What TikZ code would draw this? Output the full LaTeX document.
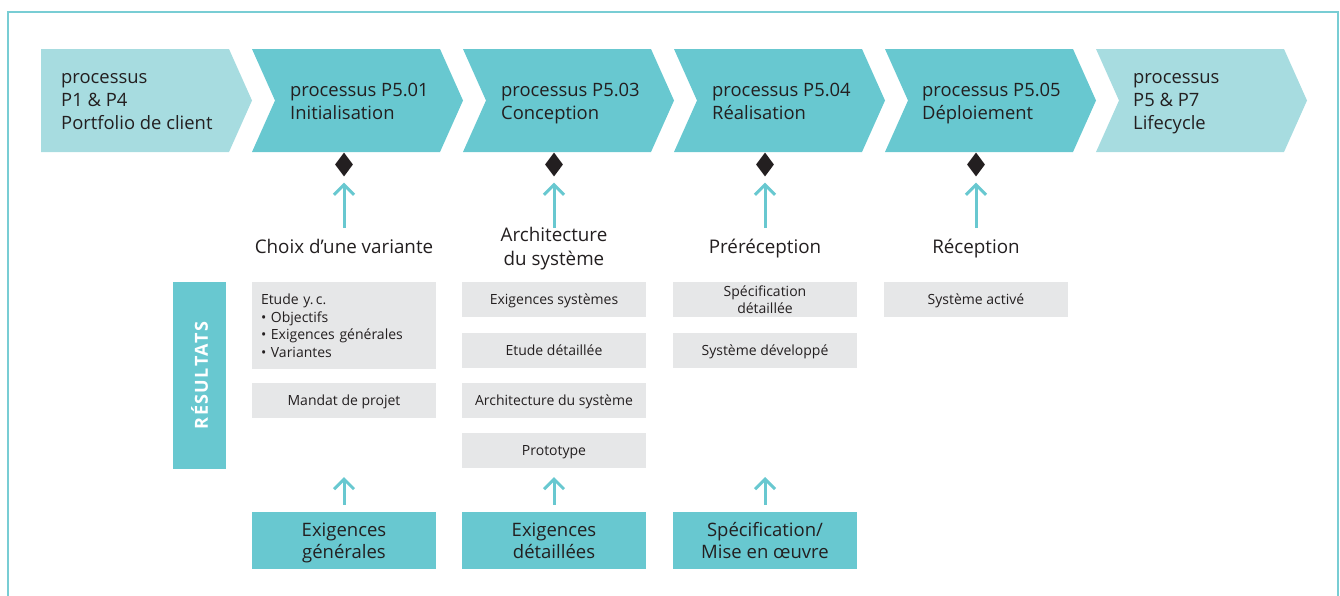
\documentclass[tikz,border=0pt]{standalone}
\usepackage{fontspec}
\setmainfont{Open Sans}
\usetikzlibrary{arrows.meta,shapes.geometric}
\definecolor{tealA}{RGB}{104,200,208}
\definecolor{tealL}{RGB}{167,220,224}
\definecolor{grayB}{RGB}{230,231,232}
\definecolor{txtC}{RGB}{35,31,32}
\definecolor{frameC}{RGB}{120,205,212}
\begin{document}
\begin{tikzpicture}[x=1pt,y=-1pt,
  ptext/.style={anchor=west,align=left,inner sep=0pt,text depth=0pt,text=txtC,font=\fontsize{18.4}{23}\selectfont},
  lab/.style={align=center,inner sep=0pt,text depth=0pt,text=txtC,font=\fontsize{18.8}{24}\selectfont},
  dia/.style={diamond,fill=txtC,minimum width=18pt,minimum height=24pt,inner sep=0pt},
  arr/.style={draw=tealA,line width=3pt,-{Straight Barb[length=10pt,width=20pt]}},
  gbox/.style={fill=grayB,minimum width=184pt,minimum height=35pt,inner sep=0pt,text depth=0pt,align=center,text=txtC,font=\fontsize{14}{17.5}\selectfont},
  bbox/.style={fill=tealA,minimum width=184pt,minimum height=57pt,inner sep=0pt,text depth=0pt,align=center,text=txtC,font=\fontsize{18.5}{22}\selectfont}]
\useasboundingbox (0,0) rectangle (1340,595);
\draw[frameC,line width=1.5pt] (8,600) -- (8,12) -- (1338,12) -- (1338,600);
% chevrons
\fill[tealL] (41,49) -- (229,49) -- (252,100.5) -- (229,152) -- (41,152) -- cycle;
\foreach \L/\c in {252/tealA,463/tealA,674/tealA,885/tealA,1096/tealL}
  \fill[\c] (\L,49) -- ++(188,0) -- ++(23,51.5) -- ++(-23,51.5) -- ++(-188,0) -- ++(23,-51.5) -- cycle;
\node[ptext] (p0) at (61,101) {processus\\P1 \& P4\\Portfolio de client};
\node[ptext] (p1) at (290,101) {processus P5.01\\Initialisation};
\node[ptext] (p2) at (501,101) {processus P5.03\\Conception};
\node[ptext] (p3) at (712,101) {processus P5.04\\Réalisation};
\node[ptext] (p4) at (922,101) {processus P5.05\\Déploiement};
\node[ptext] (p5) at (1133,101) {processus\\P5 \& P7\\Lifecycle};
% diamonds
\node[dia] (d1) at (344,164.5) {};
\node[dia] (d2) at (554,164.5) {};
\node[dia] (d3) at (765,164.5) {};
\node[dia] (d4) at (976,164.5) {};
% labels
\node[lab] (l1) at (344,246) {Choix d’une variante};
\node[lab] (l2) at (554,246) {Architecture\\du système};
\node[lab] (l3) at (765,246) {Préréception};
\node[lab] (l4) at (976,246) {Réception};
\foreach \i/\x in {1/344,2/554,3/765,4/976}{
  \coordinate (u\i) at (\x,228);
  \draw[arr,shorten >=6pt] (u\i) -- (d\i.south);
}
% results bar
\node[fill=tealA,rotate=90,minimum width=187pt,minimum height=53pt,inner sep=0pt,text=white,font=\fontsize{18}{18}\selectfont\bfseries\addfontfeature{LetterSpace=8}] (res) at (199.5,375.5) {RÉSULTATS};
% gray boxes
\node[gbox,text depth=,minimum height=87pt,text width=166pt,align=left] (g11) at (344,325.5) {Etude y.\,c.\\• Objectifs\\• Exigences générales\\• Variantes};
\node[gbox] (g12) at (344,400.5) {Mandat de projet};
\node[gbox] (g21) at (554,299.5) {Exigences systèmes};
\node[gbox] (g22) at (554,350.5) {Etude détaillée};
\node[gbox] (g23) at (554,400.5) {Architecture du système};
\node[gbox] (g24) at (554,450.5) {Prototype};
\node[gbox] (g31) at (765,299.5) {Spécification\\détaillée};
\node[gbox] (g32) at (765,350.5) {Système développé};
\node[gbox] (g41) at (976,299.5) {Système activé};
% bottom boxes
\node[bbox] (b1) at (344,540.5) {Exigences\\générales};
\node[bbox] (b2) at (554,540.5) {Exigences\\détaillées};
\node[bbox] (b3) at (765,540.5) {Spécification/\\Mise en œuvre};
\foreach \i/\x in {1/344,2/554,3/765}{
  \coordinate (t\i) at (\x,477);
  \draw[arr,shorten <=7pt] (b\i.north) -- (t\i);
}
\end{tikzpicture}
\end{document}
